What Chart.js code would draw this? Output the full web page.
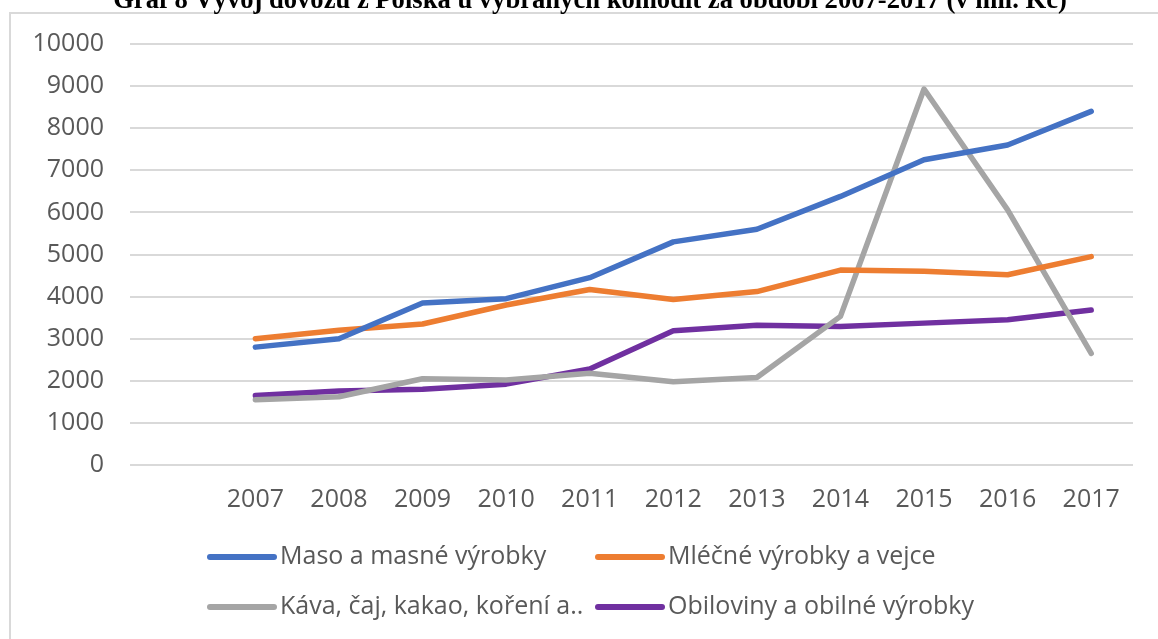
<!DOCTYPE html>
<html>
<head>
<meta charset="utf-8">
<script src="https://cdn.jsdelivr.net/npm/chart.js@4"></script>
<style>
  html, body { margin: 0; padding: 0; background: #ffffff; }
  #wrap { width: 1158px; height: 639px; position: relative; }
</style>
</head>
<body>
<div id="wrap"><canvas id="chart"></canvas></div>
<script>
const titleText = "Graf 8 Vývoj dovozu z Polska u vybraných komodit za období 2007-2017 (v mil. Kč)";
const years = ["2007", "2008", "2009", "2010", "2011", "2012", "2013", "2014", "2015", "2016", "2017"];

const masoValues = [2800, 3000, 3850, 3950, 4450, 5300, 5600, 6380, 7250, 7600, 8400];
const mlecneValues = [3000, 3200, 3350, 3800, 4170, 3930, 4120, 4630, 4600, 4520, 4950];
const kavaValues = [1550, 1620, 2050, 2020, 2180, 1980, 2080, 3530, 8930, 6060, 2650];
const obilovinyValues = [1650, 1760, 1800, 1920, 2280, 3190, 3320, 3290, 3370, 3450, 3680];

const seriesNames = ["Maso a masné výrobky", "Mléčné výrobky a vejce", "Káva, čaj, kakao, koření a..", "Obiloviny a obilné výrobky"];
const seriesColors = ["#4472C4", "#ED7D31", "#A5A5A5", "#7030A0"];

const var_text = "#595959";
const var_grid = "#d9d9d9";
const tickFont = { family: "'Open Sans', 'DejaVu Sans', sans-serif", size: 25 };

// the first category is left empty, like in the original chart
const labels = [""].concat(years);
const allValues = [masoValues, mlecneValues, kavaValues, obilovinyValues];

const datasets = allValues.map((vals, i) => ({
  label: seriesNames[i],
  data: [null].concat(vals),
  borderColor: seriesColors[i],
  backgroundColor: seriesColors[i],
  borderWidth: 5.5,
  borderJoinStyle: "round",
  borderCapStyle: "round",
  tension: 0,
  pointRadius: 0,
  fill: false,
}));

// frame, title (cut at the top) and the two-column legend
const decorations = {
  id: "decorations",
  beforeDraw(chart) {
    const c = chart.ctx;
    c.save();
    c.fillStyle = "#ffffff";
    c.fillRect(0, 0, chart.width, chart.height);
    c.strokeStyle = var_grid;
    c.lineWidth = 2;
    c.strokeRect(10, 13, chart.width + 40, chart.height + 40);
    c.restore();
  },
  afterDraw(chart) {
    const c = chart.ctx;
    c.save();
    c.font = "bold 20px 'Liberation Serif', 'Times New Roman', serif";
    const w = c.measureText(titleText).width;
    const size = 20 * 954 / w;
    c.font = "bold " + size.toFixed(2) + "px 'Liberation Serif', 'Times New Roman', serif";
    c.fillStyle = "#000000";
    c.textAlign = "center";
    c.textBaseline = "alphabetic";
    c.fillText(titleText, 590, 8);

    const colX = [210, 598];
    const rowY = [557, 607];
    c.font = "25px 'Open Sans', 'DejaVu Sans', sans-serif";
    c.textAlign = "left";
    c.textBaseline = "middle";
    chart.data.datasets.forEach((ds, i) => {
      const x = colX[i % 2];
      const y = rowY[Math.floor(i / 2)];
      c.strokeStyle = ds.borderColor;
      c.lineWidth = 6;
      c.lineCap = "round";
      c.beginPath();
      c.moveTo(x, y);
      c.lineTo(x + 64, y);
      c.stroke();
      c.fillStyle = var_text;
      c.fillText(ds.label, x + 70, y);
    });
    c.restore();
  },
};

const ctx = document.getElementById("chart").getContext("2d");
const chart = new Chart(ctx, {
  type: "line",
  data: { labels: labels, datasets: datasets },
  plugins: [decorations],
  options: {
    responsive: true,
    maintainAspectRatio: false,
    animation: false,
    layout: { padding: { top: 44, right: 25, left: 0, bottom: 0 } },
    plugins: {
      legend: { display: false },
      tooltip: { enabled: false },
      title: { display: false },
    },
    scales: {
      x: {
        type: "category",
        offset: true,
        grid: { display: false, drawTicks: false },
        border: { display: false },
        ticks: {
          color: var_text,
          font: tickFont,
          padding: 20,
          maxRotation: 0,
          autoSkip: false,
        },
        afterFit(scale) {
          scale.height = 174;
        },
      },
      y: {
        min: 0,
        max: 10000,
        grid: { color: var_grid, lineWidth: 2, drawTicks: false },
        border: { display: false },
        ticks: {
          stepSize: 1000,
          color: var_text,
          font: tickFont,
          padding: 26,
          callback: (value) => String(value),
        },
        afterFit(scale) {
          scale.width = 130;
        },
      },
    },
  },
});
</script>
</body>
</html>
